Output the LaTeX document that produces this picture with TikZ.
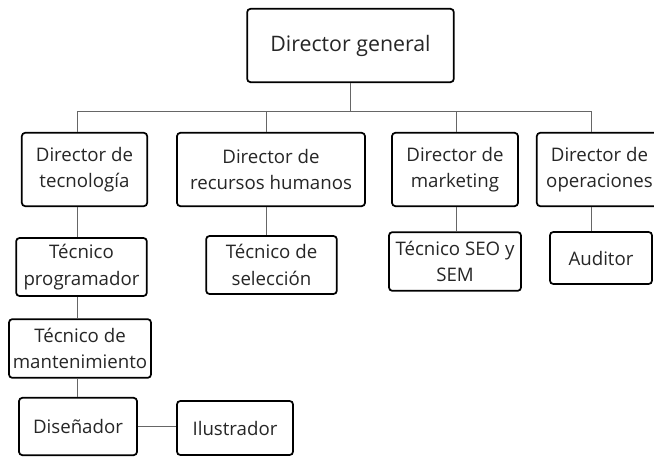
\documentclass[tikz,border=0pt]{standalone}
\usepackage{fontspec}
\setmainfont{Open Sans}
\usetikzlibrary{positioning}

\begin{document}
\begin{tikzpicture}[
		x=0.75pt, y=-0.75pt,
		box/.style={rectangle, draw=black, line width=1.3pt, rounded corners=2.5pt, fill=white,
			align=center, inner sep=0pt, text=black!85, font=\fontsize{14}{20}\selectfont},
		link/.style={draw=black!60, line width=0.7pt}
	]
  \useasboundingbox (0,0) rectangle (654,457);
  \node (gen) [box, minimum width=155pt, minimum height=55pt, font=\fontsize{16}{20}\selectfont] at (350.5, 45.5) {Director general};
  \node (tec) [box, minimum width=94pt, minimum height=55pt] at (84.5, 169.5) {Director de\\tecnología};
  \node (rrhh) [box, minimum width=141pt, minimum height=55pt] at (271, 169.5) {Director de\\recursos humanos};
  \node (mkt) [box, minimum width=94.5pt, minimum height=55pt] at (455, 169.5) {Director de\\marketing};
  \node (ope) [box, minimum width=94pt, minimum height=55pt] at (599.5, 169.5) {Director de\\operaciones};
  \node (prog) [box, minimum width=98pt, minimum height=43.5pt] at (81.5, 267) {Técnico\\programador};
  \node (mant) [box, minimum width=106.5pt, minimum height=44pt] at (80, 348.5) {Técnico de\\mantenimiento};
  \node (dis) [box, minimum width=88.5pt, minimum height=43pt] at (78, 426.5) {Diseñador};
  \node (ilu) [box, minimum width=87pt, minimum height=40.5pt] at (235, 428) {Ilustrador};
  \node (sel) [box, minimum width=98pt, minimum height=43.5pt] at (271.5, 265) {Técnico de\\selección};
  \node (seo) [box, minimum width=99pt, minimum height=44pt] at (455, 261.5) {Técnico SEO y\\SEM};
  \node (aud) [box, minimum width=76.5pt, minimum height=39pt] at (601, 258) {Auditor};
  \coordinate (b_tec) at (77, 111);
  \coordinate (b_rrhh) at (266.5, 111);
  \coordinate (b_mkt) at (456.5, 111);
  \coordinate (b_ope) at (591, 111);
  \draw [link] (gen.south) -- (gen.south |- b_tec);
  \draw [link] (b_tec) -- (b_ope);
  \draw [link] (b_tec) -- (b_tec |- tec.north);
  \draw [link] (b_rrhh) -- (b_rrhh |- rrhh.north);
  \draw [link] (b_mkt) -- (b_mkt |- mkt.north);
  \draw [link] (b_ope) -- (b_ope |- ope.north);
  \draw [link] (b_tec |- tec.south) -- (b_tec |- prog.north);
  \draw [link] (b_tec |- prog.south) -- (b_tec |- mant.north);
  \draw [link] (b_tec |- mant.south) -- (b_tec |- dis.north);
  \draw [link] (b_rrhh |- rrhh.south) -- (b_rrhh |- sel.north);
  \draw [link] (b_mkt |- mkt.south) -- (b_mkt |- seo.north);
  \draw [link] (b_ope |- ope.south) -- (b_ope |- aud.north);
  \draw [link] (dis.east) -- (dis.east -| ilu.west);
\end{tikzpicture}
\end{document}
